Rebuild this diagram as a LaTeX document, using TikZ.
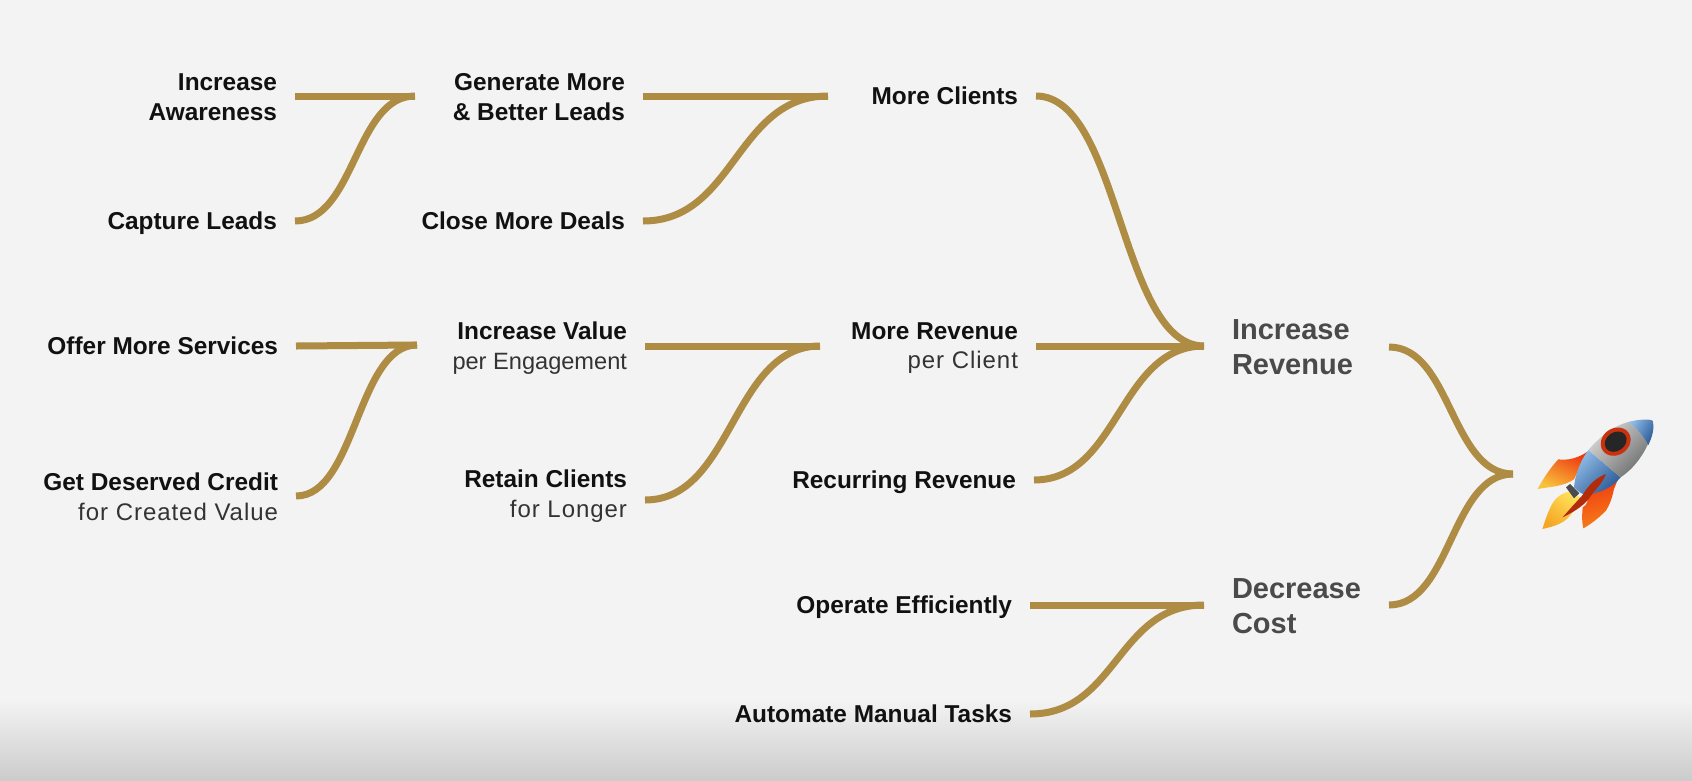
\documentclass[tikz,border=0pt]{standalone}
\usepackage{fontspec}
\setmainfont{Liberation Sans}
\newfontfamily\subfont{Liberation Sans}[LetterSpace=4]
\definecolor{paper}{HTML}{F3F3F3}
\definecolor{gold}{HTML}{AF8C43}
\definecolor{ink}{HTML}{111111}
\definecolor{soft}{HTML}{333333}
\definecolor{goal}{HTML}{4A4A4A}
\definecolor{finred}{HTML}{EE3A10}
\definecolor{finorange}{HTML}{F77F1A}
\definecolor{finyellow}{HTML}{F9C23C}
\definecolor{flameA}{HTML}{FFE05A}
\definecolor{flameB}{HTML}{F5A623}
\definecolor{hullA}{HTML}{8FBBE6}
\definecolor{hullB}{HTML}{2B5A96}
\definecolor{silvA}{HTML}{D8D8D6}
\definecolor{silvB}{HTML}{6E6F70}
\newcommand{\sub}[1]{{\fontsize{24}{30}\selectfont\subfont\mdseries\color{soft}#1}}
\newcommand{\subsm}[1]{{\fontsize{23.6}{29}\selectfont\mdseries\color{soft}#1}}
\tikzset{
  lab/.style={anchor=east,align=right,inner sep=0pt,outer xsep=18pt,text=ink,font=\fontsize{24.4}{29.5}\selectfont\bfseries},
  one/.style={text height=16pt,text depth=0pt},
  goalbox/.style={anchor=west,align=left,inner sep=0pt,outer xsep=28pt,text=goal,text width=129pt,font=\fontsize{29}{35}\selectfont\bfseries},
  link/.style={draw=gold,line width=7pt,line cap=butt},
}
\begin{document}
\begin{tikzpicture}[x=1pt,y=-1pt]
\useasboundingbox (0,0) rectangle (1692,780);
\fill[paper] (0,0) rectangle (1692,780);
\shade[top color=paper,bottom color=black!20] (0,700) rectangle (1692,780);

% junctions
\coordinate (j1) at (415,96);
\coordinate (j2) at (828,96);
\coordinate (j3) at (417,345);
\coordinate (j4) at (820,346);
\coordinate (rocket) at (1513,474);

% column 1
\node[lab] (aware) at (295,97) {Increase\\Awareness};
\node[lab,one] (capture) at (295,221) {Capture Leads};
\node[lab,one] (offer) at (296,346) {Offer More Services};
\node[lab] (credit) at (296,497) {Get Deserved Credit\\\sub{for Created Value}};
% column 2
\node[lab] (leads) at (643,97) {Generate More\\\&\ Better Leads};
\node[lab,one] (close) at (643,221) {Close More Deals};
\node[lab] (value) at (645,348) {Increase Value\\\subsm{per Engagement}};
\node[lab] (retain) at (645,496) {Retain Clients\\\sub{for Longer}};
% column 3
\node[lab,one] (clients) at (1036,96) {More Clients};
\node[lab] (perclient) at (1036,348) {More Revenue\\\sub{per Client}};
\node[lab,one] (recur) at (1034,480) {Recurring Revenue};
\node[lab,one] (operate) at (1030,605) {Operate Efficiently};
\node[lab,one] (automate) at (1030,714) {Automate Manual Tasks};
% goals
\node[goalbox] (rev) at (1204,347) {Increase\\Revenue};
\node[goalbox] (cost) at (1204,606) {Decrease\\Cost};

% connectors (yshift is in page direction: positive = up)
\draw[link] ([yshift=1pt]aware.east) -- (j1);
\draw[link] (capture.east) .. controls +(60,0) and +(-60,0) .. (j1);
\draw[link] (offer.east) -- (j3);
\draw[link] ([yshift=1pt]credit.east) .. controls +(60,0) and +(-60,0) .. (j3);
\draw[link] ([yshift=1pt]leads.east) -- (j2);
\draw[link] (close.east) .. controls +(92,0) and +(-92,0) .. (j2);
\draw[link] ([yshift=2pt]value.east) -- (j4);
\draw[link] ([yshift=-4pt]retain.east) .. controls +(88,0) and +(-88,0) .. (j4);
\draw[link] (clients.east) .. controls +(84,0) and +(-84,0) .. ([yshift=1pt]rev.west);
\draw[link] ([yshift=2pt]perclient.east) -- ([yshift=1pt]rev.west);
\draw[link] (recur.east) .. controls +(85,0) and +(-85,0) .. ([yshift=1pt]rev.west);
\draw[link] (operate.east) -- ([yshift=1pt]cost.west);
\draw[link] (automate.east) .. controls +(87,0) and +(-87,0) .. ([yshift=1pt]cost.west);
\draw[link] (rev.east) .. controls +(62,0) and +(-62,0) .. (rocket);
\draw[link] ([yshift=1pt]cost.east) .. controls +(62,0) and +(-62,0) .. (rocket);

% rocket (drawn shapes, coordinates from a 3x crop)
\begin{scope}[shift={(1500,390)},x=0.3333pt,y=-0.3333pt]
  % upper fin
  \shade[top color=finred,middle color=finorange,bottom color=finyellow,shading angle=-25]
    (262,185) .. controls (235,205) and (200,212) .. (175,208)
    .. controls (150,235) and (130,265) .. (113,297)
    .. controls (150,290) and (190,290) .. (222,268) -- cycle;
  % lower fin
  \shade[top color=finred,bottom color=finorange,shading angle=15]
    (355,265) -- (342,297) .. controls (335,330) and (328,345) .. (318,362)
    .. controls (295,385) and (272,403) .. (250,415)
    .. controls (245,395) and (246,375) .. (248,352)
    .. controls (262,345) and (266,330) .. (262,310) -- cycle;
  % flame
  \shade[top color=flameA,bottom color=flameB,shading angle=-40]
    (208,305) .. controls (180,310) and (160,330) .. (150,355)
    .. controls (140,375) and (135,395) .. (127,417)
    .. controls (150,412) and (175,405) .. (190,395)
    .. controls (215,380) and (235,340) .. (240,322) -- cycle;
  % nozzle
  \fill[black!70] (210,282) -- (198,292) -- (222,325) -- (238,310) -- cycle;
  % lower blue hull
  \shade[top color=hullA,bottom color=hullB,shading angle=45]
    (265,180) .. controls (240,215) and (225,255) .. (222,292)
    .. controls (235,305) and (245,312) .. (258,315)
    .. controls (295,310) and (335,295) .. (362,262) -- cycle;
  % silver hull
  \shade[top color=silvA,bottom color=silvB,shading angle=45]
    (265,180) .. controls (300,140) and (340,108) .. (385,96)
    .. controls (405,110) and (430,135) .. (445,160)
    .. controls (425,205) and (395,240) .. (362,262) -- cycle;
  % nose
  \shade[top color=hullA,bottom color=hullB,shading angle=60]
    (385,96) .. controls (415,88) and (445,86) .. (458,92)
    .. controls (464,115) and (457,140) .. (445,165)
    .. controls (430,135) and (405,110) .. (385,96) -- cycle;
  % window
  \fill[finred!85!black,rotate around={35:(347,155)}] (347,155) ellipse [x radius=47,y radius=40];
  \fill[black!85,rotate around={35:(347,155)}] (347,155) ellipse [x radius=35,y radius=28];
  % centre fin
  \fill[finred!75!black]
    (318,252) .. controls (290,262) and (265,285) .. (248,315)
    .. controls (225,340) and (205,362) .. (188,382)
    .. controls (225,365) and (260,340) .. (272,318)
    .. controls (290,295) and (310,275) .. (318,252) -- cycle;
\end{scope}
\end{tikzpicture}
\end{document}
